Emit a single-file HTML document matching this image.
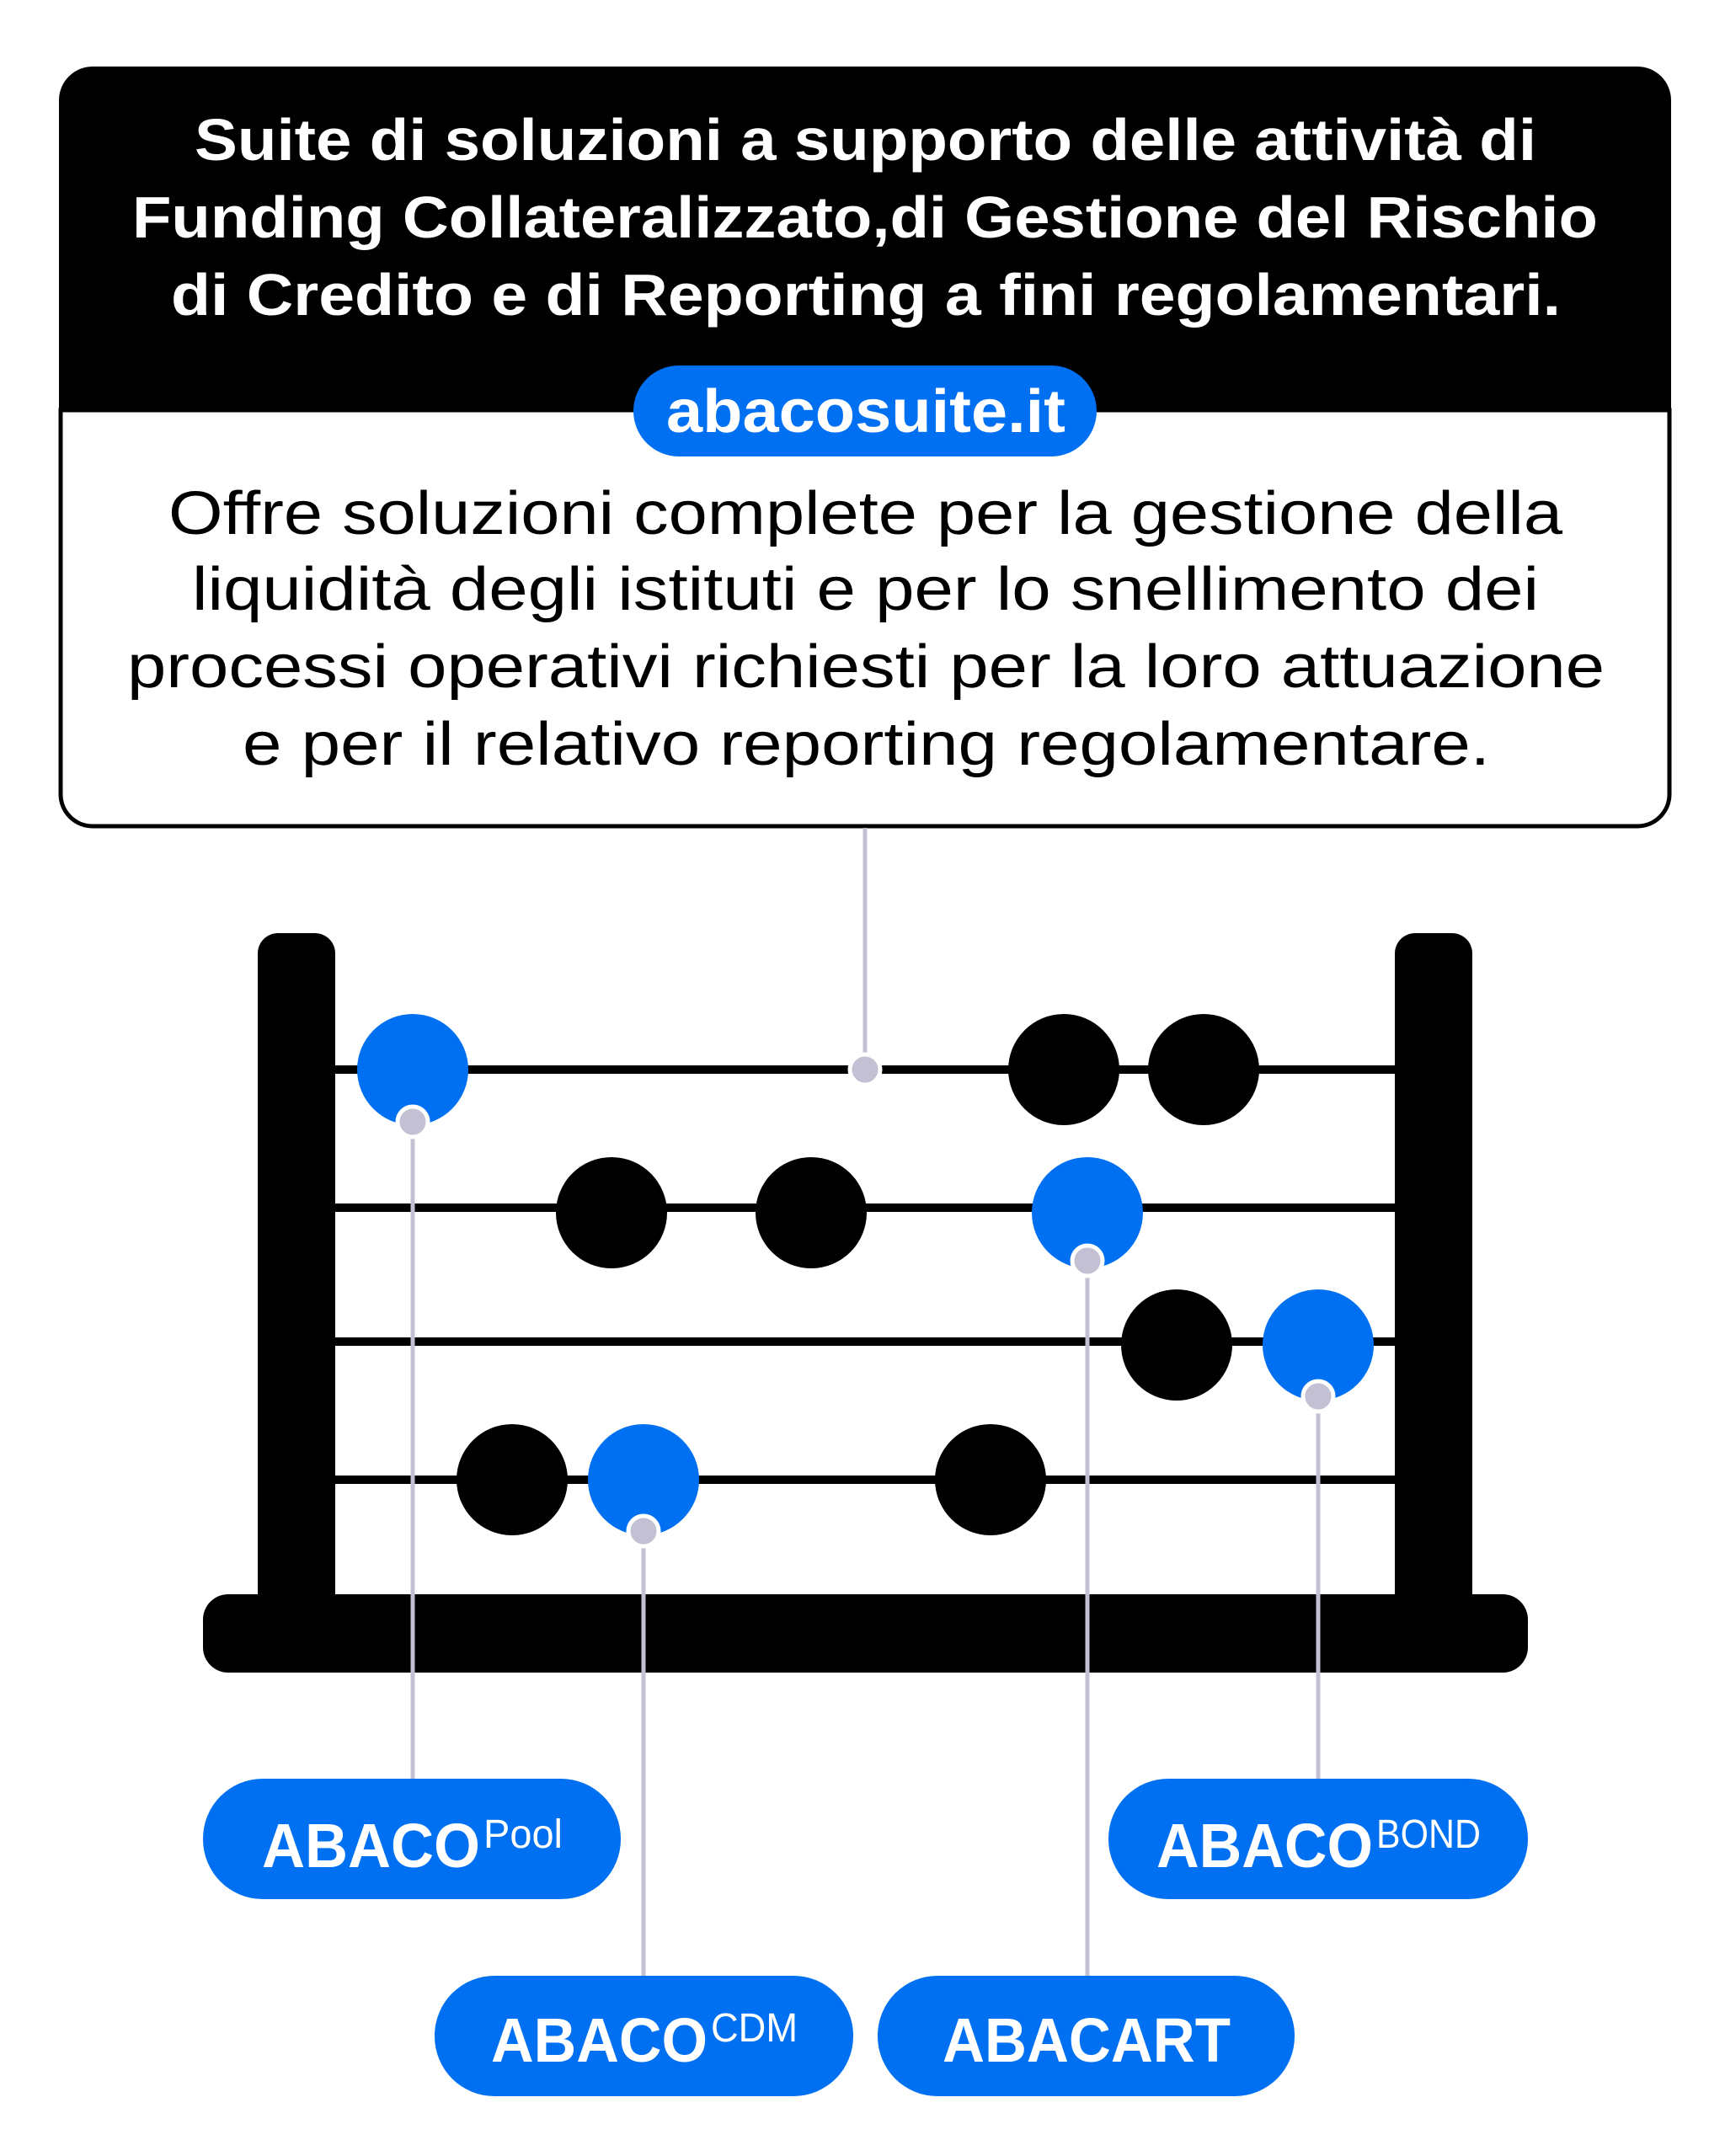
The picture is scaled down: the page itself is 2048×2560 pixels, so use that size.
<!DOCTYPE html>
<html><head><meta charset="utf-8"><style>
html,body{margin:0;padding:0;background:#fff}
svg{display:block}
text{font-family:"Liberation Sans",sans-serif}
</style></head><body>
<svg width="2048" height="2560" viewBox="0 0 2048 2560" xmlns="http://www.w3.org/2000/svg">
<rect width="2048" height="2560" fill="#fff"/>
<path d="M70 487 V119 a40 40 0 0 1 40 -40 H1944 a40 40 0 0 1 40 40 V487 Z" fill="#000"/>
<path d="M72 487 H1982 V943 a38 38 0 0 1 -38 38 H110 a38 38 0 0 1 -38 -38 Z" fill="#fff" stroke="#000" stroke-width="5"/>
<g fill="#fff" font-weight="bold" font-size="70">
<text x="231" y="190" textLength="1593" lengthAdjust="spacingAndGlyphs">Suite di soluzioni a supporto delle attività di</text>
<text x="157" y="282" textLength="1740" lengthAdjust="spacingAndGlyphs">Funding Collateralizzato,di Gestione del Rischio</text>
<text x="203" y="374" textLength="1650" lengthAdjust="spacingAndGlyphs">di Credito e di Reporting a fini regolamentari.</text>
</g>
<rect x="752" y="434" width="550" height="108" rx="54" fill="#0070f2"/>
<text x="791" y="513" textLength="474" lengthAdjust="spacingAndGlyphs" fill="#fff" font-weight="bold" font-size="72">abacosuite.it</text>
<g fill="#000" font-size="72">
<text x="200" y="634" textLength="1655" lengthAdjust="spacingAndGlyphs">Offre soluzioni complete per la gestione della</text>
<text x="228" y="724" textLength="1599" lengthAdjust="spacingAndGlyphs">liquidità degli istituti e per lo snellimento dei</text>
<text x="151" y="816" textLength="1754" lengthAdjust="spacingAndGlyphs">processi operativi richiesti per la loro attuazione</text>
<text x="288" y="908" textLength="1481" lengthAdjust="spacingAndGlyphs">e per il relativo reporting regolamentare.</text>
</g>
<rect x="306" y="1108" width="92" height="842" rx="24" fill="#000"/>
<rect x="1656" y="1108" width="92" height="842" rx="24" fill="#000"/>
<rect x="241" y="1893" width="1573" height="93" rx="30" fill="#000"/>
<g fill="#000">
<rect x="398" y="1265" width="1258" height="10"/>
<rect x="398" y="1429" width="1258" height="10"/>
<rect x="398" y="1588" width="1258" height="10"/>
<rect x="398" y="1752" width="1258" height="10"/>
</g>
<g stroke="#c2c0d2" stroke-width="5">
<line x1="1027" y1="983" x2="1027" y2="1270"/>
<line x1="490" y1="1332" x2="490" y2="2118"/>
<line x1="764" y1="1818" x2="764" y2="2348"/>
<line x1="1291" y1="1497" x2="1291" y2="2348"/>
<line x1="1565" y1="1658" x2="1565" y2="2118"/>
</g>
<g fill="#000">
<circle cx="1263" cy="1270" r="66"/><circle cx="1429" cy="1270" r="66"/>
<circle cx="726" cy="1440" r="66"/><circle cx="963" cy="1440" r="66"/>
<circle cx="1397" cy="1597" r="66"/>
<circle cx="608" cy="1757" r="66"/><circle cx="1176" cy="1757" r="66"/>
</g>
<g fill="#0070f2">
<circle cx="490" cy="1270" r="66"/>
<circle cx="1291" cy="1440" r="66"/>
<circle cx="1565" cy="1597" r="66"/>
<circle cx="764" cy="1757" r="66"/>
</g>
<g fill="#c2c0d2" stroke="#fff" stroke-width="5">
<circle cx="1027" cy="1270" r="18"/>
<circle cx="490" cy="1332" r="18"/>
<circle cx="1291" cy="1497" r="18"/>
<circle cx="1565" cy="1658" r="18"/>
<circle cx="764" cy="1818" r="18"/>
</g>
<g fill="#0070f2">
<rect x="241" y="2112" width="496" height="143" rx="71"/>
<rect x="1316" y="2112" width="498" height="143" rx="71"/>
<rect x="516" y="2346" width="497" height="143" rx="71"/>
<rect x="1042" y="2346" width="495" height="143" rx="71"/>
</g>
<g fill="#fff" font-weight="bold">
<text x="311" y="2217" font-size="74" textLength="259" lengthAdjust="spacingAndGlyphs">ABACO</text>
<text x="574" y="2194" font-size="48" textLength="94" lengthAdjust="spacingAndGlyphs" font-weight="normal">Pool</text>
<text x="1373" y="2217" font-size="74" textLength="257" lengthAdjust="spacingAndGlyphs">ABACO</text>
<text x="1634" y="2194" font-size="48" textLength="124" lengthAdjust="spacingAndGlyphs" font-weight="normal">BOND</text>
<text x="583" y="2448" font-size="74" textLength="257" lengthAdjust="spacingAndGlyphs">ABACO</text>
<text x="844" y="2424" font-size="48" textLength="103" lengthAdjust="spacingAndGlyphs" font-weight="normal">CDM</text>
<text x="1119" y="2448" font-size="74" textLength="342" lengthAdjust="spacingAndGlyphs">ABACART</text>
</g>
</svg>
</body></html>
